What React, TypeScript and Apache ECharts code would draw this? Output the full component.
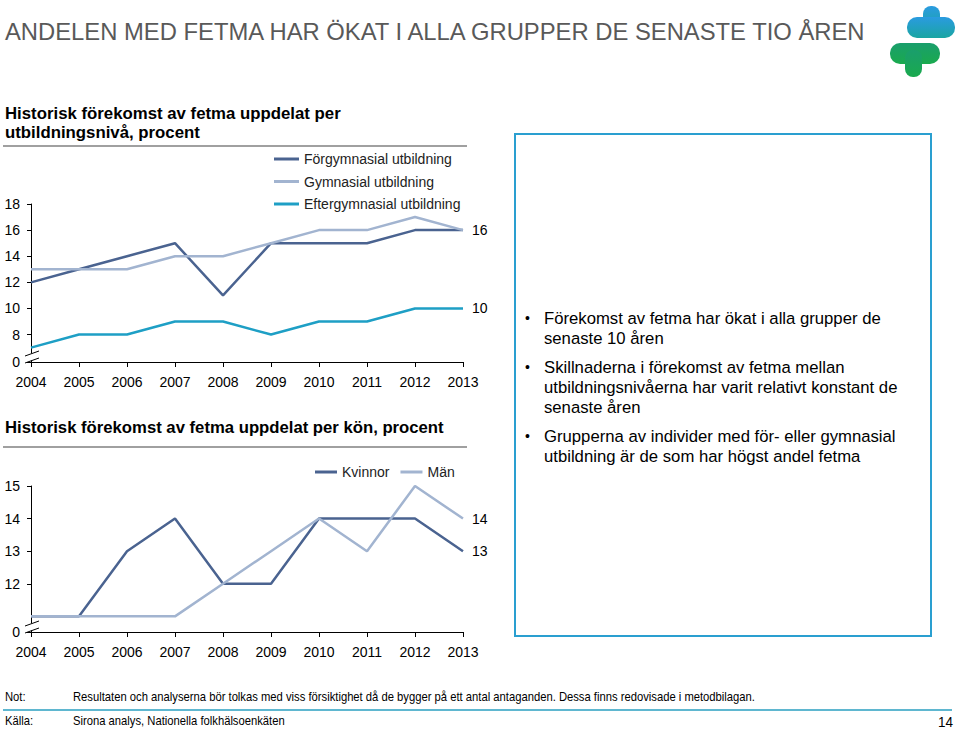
import React, { useEffect, useRef } from "react";
import * as echarts from "echarts";

const years = ["2004", "2005", "2006", "2007", "2008", "2009", "2010", "2011", "2012", "2013"];
const forgymnasial = [12, 13, 14, 15, 11, 15, 15, 15, 16, 16];
const gymnasial = [13, 13, 13, 14, 14, 15, 16, 16, 17, 16];
const eftergymnasial = [7, 8, 8, 9, 9, 8, 9, 9, 10, 10];
const kvinnor = [11, 11, 13, 14, 12, 12, 14, 14, 14, 13];
const man = [11, 11, 11, 11, 12, 13, 14, 13, 15, 14];
const topTicks = [8, 10, 12, 14, 16, 18];
const bottomTicks = [12, 13, 14, 15];
const topBreak = 5.9;
const bottomBreak = 10.52;

const bullets = [
  ["Förekomst av fetma har ökat i alla grupper de", "senaste 10 åren"],
  ["Skillnaderna i förekomst av fetma mellan", "utbildningsnivåerna har varit relativt konstant de", "senaste åren"],
  ["Grupperna av individer med för- eller gymnasial", "utbildning är de som har högst andel fetma"],
];

const FONT = "'Liberation Sans', Arial, sans-serif";
const DARK = "#4a6390";
const LIGHT = "#a2b4d0";
const TEAL = "#1e9fc5";

export default function App() {
  const ref = useRef<HTMLDivElement>(null);
  useEffect(() => {
    if (!ref.current) return;
    const chart = echarts.init(ref.current, null, { renderer: "svg" });

    const yAxisBase = (min: number, max: number, ticks: number[], gi: number) => ({
      type: "value",
      gridIndex: gi,
      min,
      max,
      splitLine: { show: false },
      axisLine: { show: true, lineStyle: { color: "#000", width: 1 } },
      axisTick: { show: true, length: 4, lineStyle: { color: "#000" }, customValues: [min, ...ticks] },
      axisLabel: {
        customValues: [min, ...ticks],
        formatter: (v: number) => (v === min ? "0" : String(v)),
        fontFamily: FONT,
        fontSize: 14,
        color: "#000",
        margin: 11,
      },
    });
    const xAxisBase = (gi: number) => ({
      type: "category",
      gridIndex: gi,
      data: years,
      boundaryGap: false,
      axisLine: { lineStyle: { color: "#000", width: 1 } },
      axisTick: { show: true, length: 5, lineStyle: { color: "#000" } },
      axisLabel: { fontFamily: FONT, fontSize: 14, color: "#000", margin: 13, interval: 0 },
    });
    const endLabel = (show: boolean) => ({
      show,
      formatter: (p: any) => String(p.value),
      fontFamily: FONT,
      fontSize: 14,
      color: "#000",
      distance: 9,
    });
    const line = (name: string, data: number[], color: string, gi: number, showEnd: boolean) => ({
      type: "line",
      name,
      data,
      xAxisIndex: gi,
      yAxisIndex: gi,
      symbol: "none",
      lineStyle: { color, width: 2.5 },
      itemStyle: { color },
      endLabel: endLabel(showEnd),
    });

    const texts: any[] = [];
    const addText = (x: number, y: number, text: string, opts: any = {}, extra: any = {}) =>
      texts.push({
        type: "text",
        x,
        y,
        ...extra,
        style: {
          text,
          fontFamily: FONT,
          fontSize: 14,
          fill: "#000",
          textVerticalAlign: "middle",
          ...opts,
        },
      });

    addText(5, 31, "ANDELEN MED FETMA HAR ÖKAT I ALLA GRUPPER DE SENASTE TIO ÅREN", { fontSize: 23.8, fill: "#595959" });
    addText(5, 113, "Historisk förekomst av fetma uppdelat per", { fontSize: 16.8, fontWeight: "bold" });
    addText(5, 132, "utbildningsnivå, procent", { fontSize: 16.8, fontWeight: "bold" });
    addText(5, 427, "Historisk förekomst av fetma uppdelat per kön, procent", { fontSize: 16.7, fontWeight: "bold" });

    let by = 318;
    bullets.forEach((b, i) => {
      if (i > 0) by += 9;
      texts.push({ type: "text", x: 525, y: by, style: { text: "•", fontFamily: FONT, fontSize: 14, fill: "#000", textVerticalAlign: "middle" } });
      b.forEach((l) => {
        addText(544, by, l, { fontSize: 16.7 });
        by += 20;
      });
    });

    const narrow = { scaleX: 0.9 };
    addText(5, 697, "Not:", { fontSize: 12.5 }, narrow);
    addText(73, 697, "Resultaten och analyserna bör tolkas med viss försiktighet då de bygger på ett antal antaganden. Dessa finns redovisade i metodbilagan.", { fontSize: 12.5 }, narrow);
    addText(5, 721, "Källa:", { fontSize: 12.5 }, narrow);
    addText(73, 721, "Sirona analys, Nationella folkhälsoenkäten", { fontSize: 12.5 }, narrow);
    addText(953, 722, "14", { fontSize: 15, textAlign: "right" }, narrow);

    const breakMark = (ay: number) => [
      { type: "polygon", shape: { points: [[24, ay - 6], [38, ay - 11], [38, ay - 4], [24, ay + 1]] }, style: { fill: "#fff" }, z: 100 },
      { type: "line", shape: { x1: 25, y1: ay - 6, x2: 39, y2: ay - 11 }, style: { stroke: "#000", lineWidth: 1 }, z: 101 },
      { type: "line", shape: { x1: 25, y1: ay + 1, x2: 39, y2: ay - 4 }, style: { stroke: "#000", lineWidth: 1 }, z: 101 },
    ];

    const topGrad = new echarts.graphic.LinearGradient(0, 0, 0, 1, [
      { offset: 0, color: "#2a9be0" },
      { offset: 1, color: "#1aa5a2" },
    ]);
    const botGrad = new echarts.graphic.LinearGradient(0, 0, 0, 1, [
      { offset: 0, color: "#1a9e6c" },
      { offset: 1, color: "#1aaa4e" },
    ]);

    const graphics: any[] = [
      ...texts,
      { type: "line", shape: { x1: 3, y1: 146, x2: 467, y2: 146 }, style: { stroke: "#a0a0a0", lineWidth: 2 } },
      { type: "line", shape: { x1: 3, y1: 447, x2: 467, y2: 447 }, style: { stroke: "#a0a0a0", lineWidth: 2 } },
      { type: "line", shape: { x1: 3, y1: 710, x2: 952, y2: 710 }, style: { stroke: "#2a9fc0", lineWidth: 1.5 } },
      { type: "rect", shape: { x: 515, y: 134, width: 416, height: 502 }, style: { fill: "none", stroke: "#2a9fd0", lineWidth: 2 } },
      { type: "rect", shape: { x: 923, y: 6, width: 17, height: 26, r: 8 }, style: { fill: topGrad } },
      { type: "rect", shape: { x: 907, y: 17, width: 48, height: 21, r: 10 }, style: { fill: topGrad } },
      { type: "rect", shape: { x: 890, y: 43, width: 50, height: 21, r: 10 }, style: { fill: botGrad } },
      { type: "rect", shape: { x: 905, y: 50, width: 17, height: 27, r: 8 }, style: { fill: botGrad } },
      ...breakMark(362),
      ...breakMark(632),
    ];

    chart.setOption({
      animation: false,
      backgroundColor: "#fff",
      textStyle: { fontFamily: FONT },
      grid: [
        { left: 31, top: 204, width: 432, height: 158 },
        { left: 31, top: 486, width: 432, height: 146 },
      ],
      legend: [
        {
          orient: "vertical",
          left: 274,
          top: 152,
          padding: 0,
          itemWidth: 25,
          itemHeight: 3,
          itemGap: 8.5,
          icon: "rect",
          data: ["Förgymnasial utbildning", "Gymnasial utbildning", "Eftergymnasial utbildning"],
          textStyle: { fontFamily: FONT, fontSize: 14, color: "#222", lineHeight: 14 },
        },
        {
          orient: "horizontal",
          left: 315,
          top: 465,
          padding: 0,
          itemWidth: 22,
          itemHeight: 3,
          itemGap: 11,
          icon: "rect",
          data: ["Kvinnor", "Män"],
          textStyle: { fontFamily: FONT, fontSize: 14, color: "#222", lineHeight: 14 },
        },
      ],
      xAxis: [xAxisBase(0), xAxisBase(1)],
      yAxis: [yAxisBase(topBreak, 18, topTicks, 0), yAxisBase(bottomBreak, 15, bottomTicks, 1)],
      series: [
        line("Förgymnasial utbildning", forgymnasial, DARK, 0, false),
        line("Gymnasial utbildning", gymnasial, LIGHT, 0, true),
        line("Eftergymnasial utbildning", eftergymnasial, TEAL, 0, true),
        line("Kvinnor", kvinnor, DARK, 1, true),
        line("Män", man, LIGHT, 1, true),
      ],
      graphic: graphics,
    });
    return () => chart.dispose();
  }, []);
  return <div ref={ref} style={{ position: "absolute", left: 0, top: 0, width: 960, height: 729 }} />;
}
